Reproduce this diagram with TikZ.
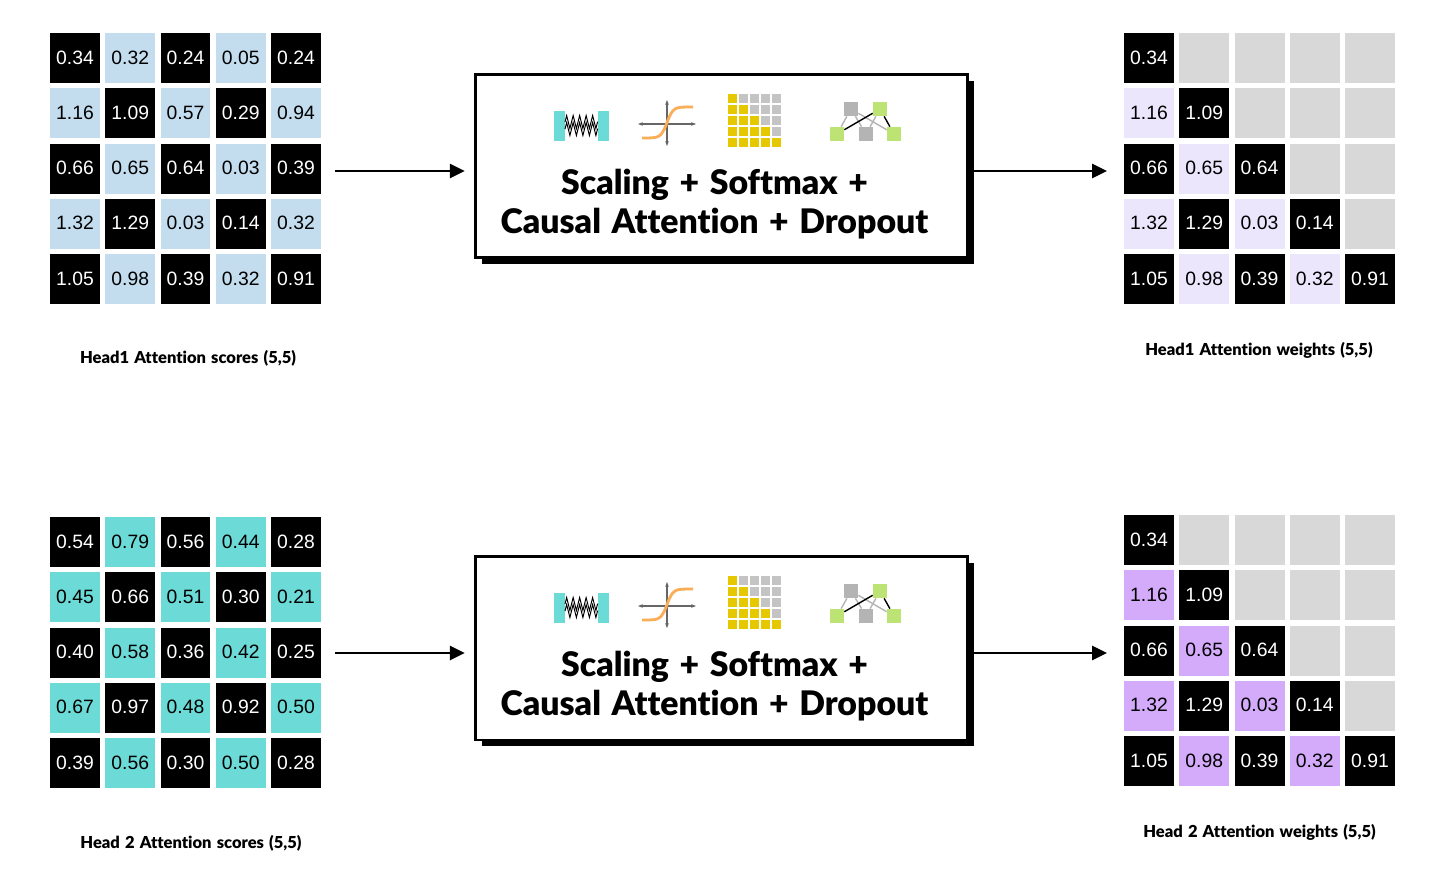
\documentclass[tikz,border=0pt]{standalone}
\usepackage{fontspec}
\setmainfont{Liberation Sans}
\newfontfamily\gillfont[Ligatures=NoCommon, BoldFont={Lato Black}, WordSpace=1.35]{Lato}
\usepackage{xcolor}
\definecolor{colBlue}{HTML}{C3DDEE}
\definecolor{colTeal}{HTML}{6CDAD6}
\definecolor{colLav}{HTML}{EBE6FC}
\definecolor{colPurple}{HTML}{D4ABFA}
\definecolor{colMask}{HTML}{D8D8D8}
\definecolor{colYellow}{HTML}{E6C800}
\definecolor{colGrey}{HTML}{C4C4C4}
\definecolor{colNet}{HTML}{B4B4B4}
\definecolor{colGreen}{HTML}{BEE375}
\definecolor{colOrange}{HTML}{F9AE57}
\usepackage{tikz}
\usetikzlibrary{arrows.meta, positioning, shadows, decorations.pathmorphing}

% score grid: name, left, top, light style, rows
\newcommand{\scoregrid}[5]{
	\foreach \rowvals [count=\r] in {#5} {
		\foreach \val [count=\c] in \rowvals {
			\pgfmathtruncatemacro{\oddcell}{mod(\r+\c,2)}
			\ifnum\oddcell=0 \def\cellstyle{darkcell}\else\def\cellstyle{#4}\fi
			\node[\cellstyle] (#1-\r-\c) at ({#2+25+(\c-1)*55.25},{#3+25+(\r-1)*55.25}) {\val};
		}
	}
}
% weight grid: same values for both heads, above the diagonal masked
\newcommand{\weightvals}{{0.34,,,,},{1.16,1.09,,,},{0.66,0.65,0.64,,},{1.32,1.29,0.03,0.14,},{1.05,0.98,0.39,0.32,0.91}}
\newcommand{\weightgrid}[4]{
	\foreach \rowvals [count=\r] in \weightvals {
		\foreach \val [count=\c] in \rowvals {
			\pgfmathtruncatemacro{\oddcell}{mod(\r+\c,2)}
			\ifnum\oddcell=0 \def\cellstyle{darkcell}\else\def\cellstyle{#4}\fi
			\ifnum\c>\r \def\cellstyle{maskcell}\fi
			\node[\cellstyle] (#1-\r-\c) at ({#2+25+(\c-1)*55.25},{#3+25+(\r-1)*55.25}) {\val};
		}
	}
}

\begin{document}
\begin{tikzpicture}[
		x=0.02cm, y=-0.02cm,
		cell/.style={minimum size=1cm, inner sep=0pt, text height=7.9pt, text depth=1pt, font=\fontsize{11}{12}\selectfont},
		darkcell/.style={cell, fill=black, text=white},
		bluecell/.style={cell, fill=colBlue},
		tealcell/.style={cell, fill=colTeal},
		lavcell/.style={cell, fill=colLav},
		purplecell/.style={cell, fill=colPurple},
		maskcell/.style={cell, fill=colMask},
		opbox/.style={draw, line width=1.7pt, fill=white, minimum width=9.85cm, minimum height=3.68cm,
			general shadow={fill=black, shadow xshift=0.13cm, shadow yshift=-0.13cm}},
		optext/.style={font=\gillfont\bfseries\fontsize{19.25}{22.2}\selectfont, align=center},
		caption/.style={font=\gillfont\bfseries\fontsize{9.4}{11}\selectfont},
		flow/.style={-{Triangle[length=8.5pt, width=8pt]}, line width=1.6pt},
		netsq/.style={minimum size=0.28cm, inner sep=0pt},
		opicons/.pic={
			% spring
			\fill[colTeal] (79,38) rectangle (90,68);
			\fill[colTeal] (123,38) rectangle (134,68);
			\draw[line width=0.55pt, decorate, decoration={zigzag, amplitude=0.13cm, segment length=0.13cm}]
				(90,49) -- (123,49);
			\draw[line width=0.55pt, decorate, decoration={zigzag, amplitude=0.13cm, segment length=0.13cm}]
				(90,56) -- (123,56);
			% sigmoid
			\draw[{Stealth[length=2.8pt]}-{Stealth[length=2.8pt]}, line width=0.7pt, black!60] (163,51) -- (221,51);
			\draw[{Stealth[length=2.8pt]}-{Stealth[length=2.8pt]}, line width=0.7pt, black!60] (192,27) -- (192,73);
			\draw[colOrange, line width=1.6pt] plot[smooth, domain=-25:26, samples=31]
				(192+\x, {49.5-15.5*tanh(\x/6)});
			% mask matrix
			\foreach \r in {1,...,5} {
				\foreach \c in {1,...,5} {
					\ifnum\c>\r \def\sqcol{colGrey}\else\def\sqcol{colYellow}\fi
					\fill[\sqcol] ({253+(\c-1)*11},{21+(\r-1)*11}) rectangle ++(8.5,8.5);
				}
			}
			% dropout net
			\node[netsq, fill=colNet]   (ga) at (376,36) {};
			\node[netsq, fill=colGreen] (gb) at (405,36) {};
			\node[netsq, fill=colGreen] (gc) at (362,61) {};
			\node[netsq, fill=colNet]   (gd) at (391,61) {};
			\node[netsq, fill=colGreen] (ge) at (419,61) {};
			\draw[colNet, line width=0.8pt] (ga) -- (gc);
			\draw[colNet, line width=0.8pt] (ga) -- (gd);
			\draw[colNet, line width=0.8pt] (ga) -- (ge);
			\draw[colNet, line width=0.8pt] (gb) -- (gd);
			\draw[line width=0.8pt] (gc) -- (gb);
			\draw[line width=0.8pt] (gb) -- (ge);
		}
	]
	\useasboundingbox (0,0) rectangle (1456,877);

	% ===== Head 1 =====
	\scoregrid{scA}{50}{33}{bluecell}{{0.34,0.32,0.24,0.05,0.24},{1.16,1.09,0.57,0.29,0.94},{0.66,0.65,0.64,0.03,0.39},{1.32,1.29,0.03,0.14,0.32},{1.05,0.98,0.39,0.32,0.91}}
	\node[caption] (capA) at (188,358) {Head1 Attention scores (5,5)};

	\node[opbox] (opA) at (721.25,166) {};
	\pic (icA) at (475,73) {opicons};
	\node[optext] (txtA) at (714.5,204) {Scaling + Softmax +\\Causal Attention + Dropout};

	\weightgrid{wtA}{1124}{33}{lavcell}
	\node[caption] (capB) at (1259,350) {Head1 Attention weights (5,5)};

	\coordinate (inA) at (335,171);
	\coordinate (outA) at (1107,171);
	\draw[flow, shorten >=5pt] (inA) -- (opA.west |- inA);
	\draw[flow] (opA.east |- outA) -- (outA);

	% ===== Head 2 =====
	\scoregrid{scB}{50}{517}{tealcell}{{0.54,0.79,0.56,0.44,0.28},{0.45,0.66,0.51,0.30,0.21},{0.40,0.58,0.36,0.42,0.25},{0.67,0.97,0.48,0.92,0.50},{0.39,0.56,0.30,0.50,0.28}}
	\node[caption] (capC) at (191,843) {Head 2 Attention scores (5,5)};

	\node[opbox] (opB) at (721.25,648) {};
	\pic (icB) at (475,555) {opicons};
	\node[optext] (txtB) at (714.5,686) {Scaling + Softmax +\\Causal Attention + Dropout};

	\weightgrid{wtB}{1124}{515}{purplecell}
	\node[caption] (capD) at (1259.5,832) {Head 2 Attention weights (5,5)};

	\coordinate (inB) at (335,653);
	\coordinate (outB) at (1107,653);
	\draw[flow, shorten >=5pt] (inB) -- (opB.west |- inB);
	\draw[flow] (opB.east |- outB) -- (outB);
\end{tikzpicture}
\end{document}
